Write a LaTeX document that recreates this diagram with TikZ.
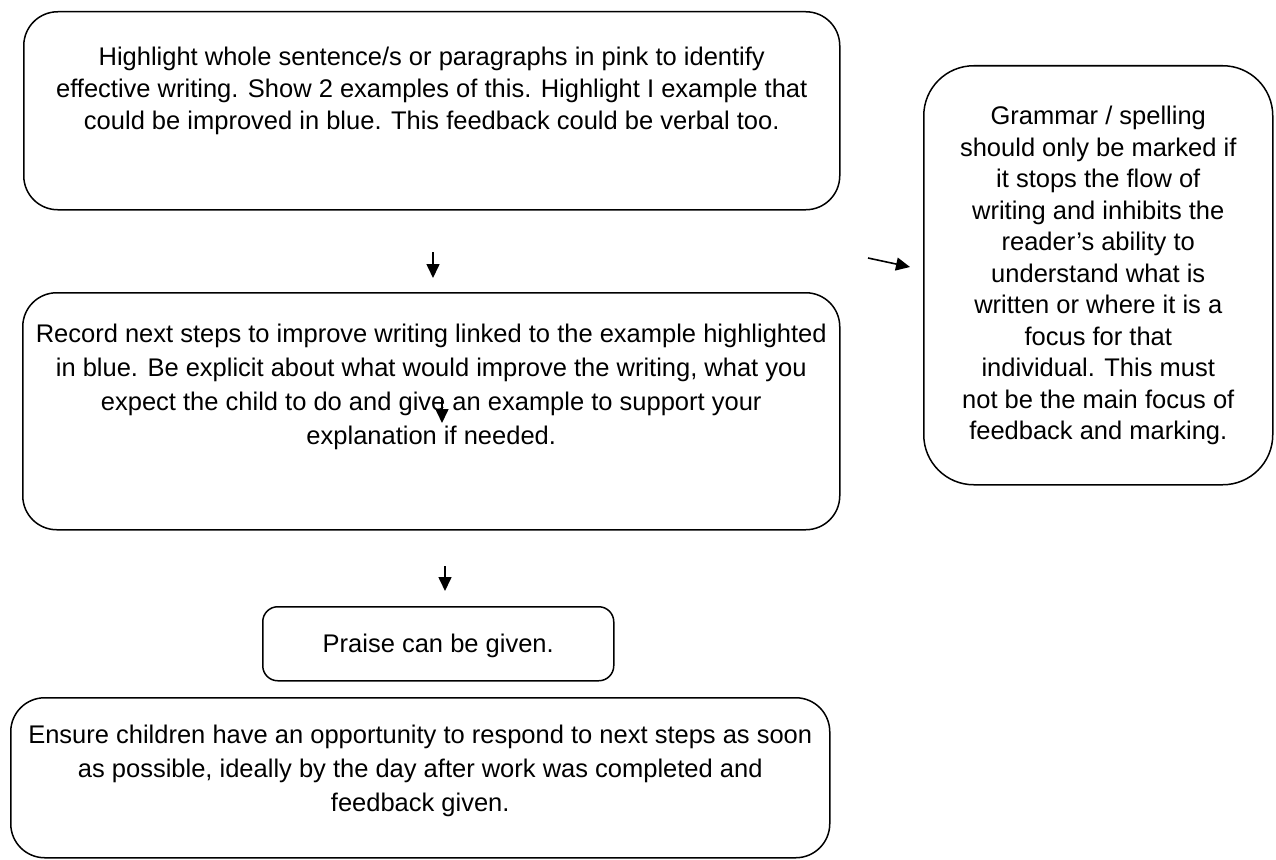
\documentclass[tikz,border=0pt]{standalone}
\usepackage{fontspec}
\setmainfont{Liberation Sans}
\usetikzlibrary{arrows.meta}

\tikzset{
  card/.style={draw, line width=1.5pt, rounded corners=#1, inner sep=0pt, anchor=north west},
  card/.default=34pt,
  flow/.style={line width=1.6pt, -{Triangle[length=14pt,width=13pt]}},
}
% [line skip] width, height, first baseline, text
\newcommand{\cardtext}[5][34]{\parbox[c][#3][t]{#2}{\centering\fontsize{25.5}{#1}\selectfont\rule{0pt}{#4}#5\par}}

\begin{document}
\begin{tikzpicture}[x=1pt, y=-1pt]
\useasboundingbox (0,0) rectangle (1276,859);

\node[card] (mark) at (23,11) {\cardtext[32]{816pt}{198pt}{54pt}{Highlight whole sentence/s or paragraphs in pink to identify\\ effective writing. Show 2 examples of this. Highlight I example that\\ could be improved in blue. This feedback could be verbal too.}};
\node[card] (next) at (22,292) {\cardtext{817pt}{237pt}{50pt}{Record next steps to improve writing linked to the example highlighted\\ in blue. Be explicit about what would improve the writing, what you\\ expect the child to do and give an example to support your\\ explanation if needed.}};
\node[card=15pt] (praise) at (262,606) {\cardtext{351pt}{74pt}{46pt}{Praise can be given.}};
\node[card] (respond) at (10,697) {\cardtext{819pt}{160pt}{46pt}{Ensure children have an opportunity to respond to next steps as soon\\ as possible, ideally by the day after work was completed and\\ feedback given.}};
\node[card=50pt] (grammar) at (923,65) {\cardtext[31.5]{349pt}{419pt}{59pt}{Grammar / spelling\\ should only be marked if\\ it stops the flow of\\ writing and inhibits the\\ reader’s ability to\\ understand what is\\ written or where it is a\\ focus for that\\ individual. This must\\ not be the main focus of\\ feedback and marking.}};

% free arrows between the cards
\coordinate (a1) at (433,252);  \coordinate (b1) at (433,278);
\coordinate (a2) at (442,398);  \coordinate (b2) at (442,423);
\coordinate (a3) at (445,566);  \coordinate (b3) at (445,591);
\coordinate (a4) at (868,258);  \coordinate (b4) at (910,267);
\draw[flow] (a1) -- (b1);
\draw[flow] (a2) -- (b2);
\draw[flow] (a3) -- (b3);
\draw[flow] (a4) -- (b4);
\end{tikzpicture}
\end{document}
